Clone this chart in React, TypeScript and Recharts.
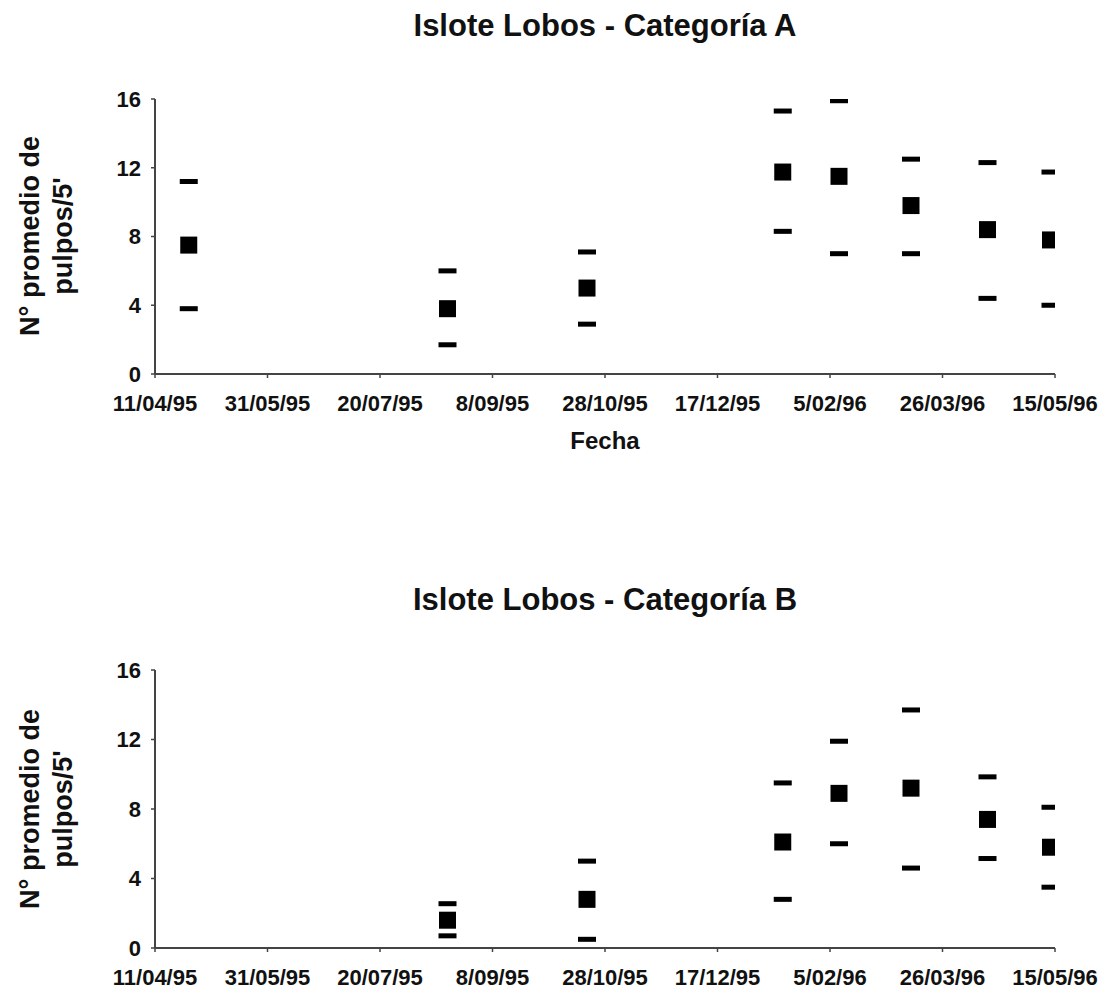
import React from 'react';
import { ScatterChart, Scatter, XAxis, YAxis } from 'recharts';

// Sampling dates (dd/mm/yy)
const sampleDates = ['26/04/95', '19/08/95', '20/10/95', '15/01/96', '9/02/96', '12/03/96', '15/04/96', '13/05/96'];

// Islote Lobos - Categoría A
const meanA = [7.5, 3.8, 5.0, 11.75, 11.5, 9.8, 8.4, 7.8];
const upperA = [11.2, 6.0, 7.1, 15.3, 15.9, 12.5, 12.3, 11.75];
const lowerA = [3.8, 1.7, 2.9, 8.3, 7.0, 7.0, 4.4, 4.0];

// Islote Lobos - Categoría B
const meanB = [null, 1.6, 2.8, 6.1, 8.9, 9.2, 7.4, 5.8];
const upperB = [null, 2.55, 5.0, 9.5, 11.9, 13.7, 9.85, 8.1];
const lowerB = [null, 0.7, 0.5, 2.8, 6.0, 4.6, 5.15, 3.5];

const xTickLabels = ['11/04/95', '31/05/95', '20/07/95', '8/09/95', '28/10/95', '17/12/95', '5/02/96', '26/03/96', '15/05/96'];
const yTicks = [0, 4, 8, 12, 16];

const FONT = "'Liberation Sans', Arial, Helvetica, sans-serif";
const ORIGIN = Date.UTC(1995, 3, 11);

function dayOf(s: string): number {
  const [d, m, y] = s.split('/').map(Number);
  return Math.round((Date.UTC(1900 + y, m - 1, d) - ORIGIN) / 86400000);
}
const xTicks = xTickLabels.map(dayOf);

function series(vals: (number | null)[]) {
  return sampleDates
    .map((d, i) => ({ x: dayOf(d), y: vals[i] }))
    .filter((p) => p.y !== null && p.y !== undefined);
}

const Square = (props: any) => {
  const { cx, cy } = props;
  if (cx == null || cy == null) return null;
  return <rect x={cx - 8.5} y={cy - 8.5} width={17} height={17} fill="#000" />;
};
const Dash = (props: any) => {
  const { cx, cy } = props;
  if (cx == null || cy == null) return null;
  return <rect x={cx - 9} y={cy - 2.5} width={18} height={5} fill="#000" />;
};

const tickStyle = { fill: '#111', fontSize: 22, fontWeight: 700, fontFamily: FONT };

function Panel({ mean, upper, lower, top, height, marginTop, marginBottom }: any) {
  return (
    <div style={{ position: 'absolute', left: 0, top, width: 1112, height }}>
      <ScatterChart
        width={1112}
        height={height}
        margin={{ top: marginTop, right: 57, bottom: marginBottom, left: 95 }}
      >
        <XAxis
          dataKey="x"
          type="number"
          domain={[0, 400]}
          ticks={xTicks}
          tickFormatter={(v: number) => xTickLabels[xTicks.indexOf(v)] ?? ''}
          interval={0}
          height={40}
          tickSize={4}
          tickMargin={17}
          axisLine={{ stroke: '#444', strokeWidth: 2 }}
          tickLine={{ stroke: '#444', strokeWidth: 1.5 }}
          tick={tickStyle}
          allowDataOverflow
        />
        <YAxis
          dataKey="y"
          type="number"
          domain={[0, 16]}
          ticks={yTicks}
          interval={0}
          width={60}
          tickSize={4}
          tickMargin={10}
          axisLine={{ stroke: '#444', strokeWidth: 2 }}
          tickLine={{ stroke: '#444', strokeWidth: 1.5 }}
          tick={tickStyle}
          allowDataOverflow
        />
        <Scatter data={series(upper)} dataKey="y" shape={Dash} isAnimationActive={false} />
        <Scatter data={series(mean)} dataKey="y" shape={Square} isAnimationActive={false} />
        <Scatter data={series(lower)} dataKey="y" shape={Dash} isAnimationActive={false} />
      </ScatterChart>
    </div>
  );
}

function Title({ text, centerY }: { text: string; centerY: number }) {
  return (
    <div
      style={{
        position: 'absolute',
        left: 155,
        width: 900,
        top: centerY - 18,
        height: 36,
        lineHeight: '36px',
        textAlign: 'center',
        fontFamily: FONT,
        fontWeight: 700,
        fontSize: 31,
        color: '#111',
        whiteSpace: 'nowrap',
      }}
    >
      {text}
    </div>
  );
}

function YLabel({ centerY }: { centerY: number }) {
  return (
    <div
      style={{
        position: 'absolute',
        left: 47 - 150,
        top: centerY - 33,
        width: 300,
        height: 66,
        lineHeight: '33px',
        textAlign: 'center',
        fontFamily: FONT,
        fontWeight: 700,
        fontSize: 27,
        color: '#111',
        transform: 'rotate(-90deg)',
        transformOrigin: 'center center',
        whiteSpace: 'nowrap',
      }}
    >
      <div>N° promedio de</div>
      <div>pulpos/5'</div>
    </div>
  );
}

export default function App() {
  return (
    <div style={{ position: 'absolute', left: 0, top: 0, width: 1112, height: 998, background: '#fff', overflow: 'hidden' }}>
      <Title text="Islote Lobos - Categoría A" centerY={26} />
      <YLabel centerY={236} />
      <Panel mean={meanA} upper={upperA} lower={lowerA} top={0} height={470} marginTop={99} marginBottom={56} />
      <div
        style={{
          position: 'absolute',
          left: 155,
          width: 900,
          top: 441 - 15,
          height: 30,
          lineHeight: '30px',
          textAlign: 'center',
          fontFamily: FONT,
          fontWeight: 700,
          fontSize: 24,
          color: '#111',
        }}
      >
        Fecha
      </div>

      <Title text="Islote Lobos - Categoría B" centerY={600} />
      <YLabel centerY={809} />
      <Panel mean={meanB} upper={upperB} lower={lowerB} top={560} height={438} marginTop={110} marginBottom={10} />
    </div>
  );
}
